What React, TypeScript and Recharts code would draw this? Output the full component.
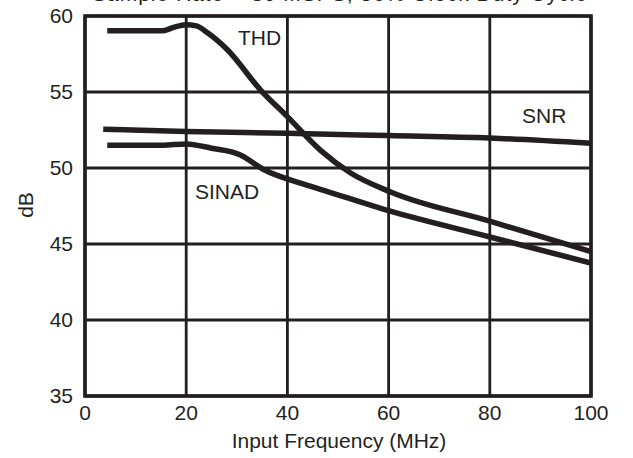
import { LineChart, Line, XAxis, YAxis, CartesianGrid, ReferenceArea } from "recharts"

const INK = "#231f20"
const FONT = "'Liberation Sans', Arial, Helvetica, sans-serif"

// values (MHz -> dB)
const thdFreq = [4.4, 15.4, 17.5, 20, 22, 24.2, 28.1, 34.7, 40, 46.5, 52.5, 60.4, 80, 100]
const thdDb = [59.03, 59.03, 59.25, 59.42, 59.35, 58.9, 57.8, 55.13, 53.38, 51.18, 49.67, 48.42, 46.5, 44.5]

const snrFreq = [3.6, 20, 40, 60, 80, 100]
const snrDb = [52.55, 52.4, 52.28, 52.13, 51.97, 51.62]

const sinadFreq = [4.4, 15.4, 20, 25, 30.7, 35.3, 42.6, 46.5, 60, 80, 100]
const sinadDb = [51.49, 51.5, 51.58, 51.3, 50.86, 49.9, 49.0, 48.6, 47.19, 45.46, 43.75]

const xTicks = [0, 20, 40, 60, 80, 100]
const yTicks = [35, 40, 45, 50, 55, 60]

const toPoints = (f: number[], v: number[]) => f.map((x, i) => ({ f: x, v: v[i] }))

const thd = toPoints(thdFreq, thdDb)
const snr = toPoints(snrFreq, snrDb)
const sinad = toPoints(sinadFreq, sinadDb)

const tickStyle = { fontSize: 21, fill: INK, fontFamily: FONT }

export default function App() {
  return (
    <div style={{ position: "absolute", left: 0, top: 0 }}>
      <LineChart
        width={633}
        height={458}
        margin={{ top: 16, right: 42, bottom: 0, left: 0 }}
        style={{ fontFamily: FONT }}
      >
        <CartesianGrid stroke={INK} strokeWidth={2.8} />
        <XAxis
          type="number"
          dataKey="f"
          domain={[0, 100]}
          ticks={xTicks}
          height={62}
          axisLine={false}
          tickLine={false}
          tickSize={0}
          tickMargin={9}
          tick={tickStyle}
          allowDataOverflow
        />
        <YAxis
          type="number"
          domain={[35, 60]}
          ticks={yTicks}
          width={85}
          axisLine={false}
          tickLine={false}
          tickSize={0}
          tickMargin={12}
          tick={tickStyle}
          allowDataOverflow
        />
        <ReferenceArea x1={0} x2={100} y1={35} y2={60} fill="none" stroke={INK} strokeWidth={3.6} />
        <Line data={thd} dataKey="v" type="monotone" stroke={INK} strokeWidth={5.5} dot={false} isAnimationActive={false} />
        <Line data={snr} dataKey="v" type="monotone" stroke={INK} strokeWidth={5.5} dot={false} isAnimationActive={false} />
        <Line data={sinad} dataKey="v" type="monotone" stroke={INK} strokeWidth={5.5} dot={false} isAnimationActive={false} />

        <text x={92} y={1} fontSize={21} fill={INK} fontFamily={FONT} textLength={495} lengthAdjust="spacing">
          Sample Rate = 80 MSPS, 50% Clock Duty Cycle
        </text>
        <text x={238} y={45} fontSize={21} fill={INK} fontFamily={FONT}>THD</text>
        <text x={522} y={123} fontSize={21} fill={INK} fontFamily={FONT}>SNR</text>
        <text x={195} y={199} fontSize={21} fill={INK} fontFamily={FONT}>SINAD</text>
        <text x={339} y={448} fontSize={21} fill={INK} fontFamily={FONT} textAnchor="middle">
          Input Frequency (MHz)
        </text>
        <text
          x={33}
          y={205}
          fontSize={21}
          fill={INK}
          fontFamily={FONT}
          textAnchor="middle"
          transform="rotate(-90 33 205)"
        >
          dB
        </text>
      </LineChart>
    </div>
  )
}
